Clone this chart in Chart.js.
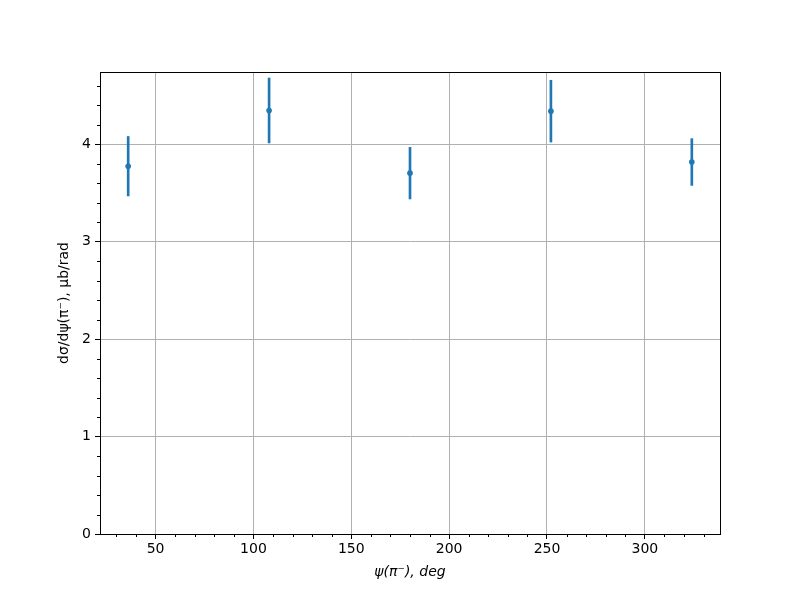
<!DOCTYPE html>
<html>
<head>
<meta charset="utf-8">
<script src="https://cdn.jsdelivr.net/npm/chart.js@4/dist/chart.umd.min.js"></script>
<style>
  html, body { margin: 0; padding: 0; background: #fff; }
  #c { display: block; }
</style>
</head>
<body>
<canvas id="c" width="800" height="600"></canvas>
<script>
// ── data ──
const psiDeg  = [36, 108, 180, 252, 324];
const dSigma  = [3.775, 4.347, 3.704, 4.340, 3.818];
const dSigErr = [0.305, 0.333, 0.265, 0.317, 0.240];

const xTicks = [50, 100, 150, 200, 250, 300];
const yTicks = [0, 1, 2, 3, 4];
const xMinor = [30, 40, 60, 70, 80, 90, 110, 120, 130, 140, 160, 170, 180, 190,
                210, 220, 230, 240, 260, 270, 280, 290, 310, 320, 330];
const yMinor = [0.2, 0.4, 0.6, 0.8, 1.2, 1.4, 1.6, 1.8, 2.2, 2.4, 2.6, 2.8,
                3.2, 3.4, 3.6, 3.8, 4.2, 4.4, 4.6];

const BLUE = '#1f77b4';
const FONT = { family: 'DejaVu Sans', size: 14 };

// frame + minor ticks, matplotlib style
const axesFrame = {
  id: 'axesFrame',
  afterDraw(chart) {
    const { ctx, chartArea: a, scales: { x, y } } = chart;
    ctx.save();
    ctx.strokeStyle = '#000';
    ctx.lineWidth = 1;
    ctx.beginPath();
    xMinor.forEach(v => {
      const px = Math.round(x.getPixelForValue(v)) + 0.5;
      ctx.moveTo(px, a.bottom); ctx.lineTo(px, a.bottom + 3);
    });
    yMinor.forEach(v => {
      const py = Math.round(y.getPixelForValue(v)) + 0.5;
      ctx.moveTo(a.left, py); ctx.lineTo(a.left - 3, py);
    });
    ctx.stroke();
    ctx.strokeRect(Math.round(a.left) + 0.5, Math.round(a.top) + 0.5,
                   Math.round(a.right - a.left), Math.round(a.bottom - a.top));
    ctx.restore();
  }
};

new Chart(document.getElementById('c'), {
  type: 'scatter',
  data: {
    datasets: [
      {
        type: 'scatter',
        data: psiDeg.map((v, i) => ({ x: v, y: dSigma[i] })),
        backgroundColor: BLUE,
        borderColor: BLUE,
        pointRadius: 2.8,
        pointHoverRadius: 2.8,
        borderWidth: 0,
        order: 1
      },
      {
        type: 'bar',
        data: psiDeg.map((v, i) => ({ x: v, y: [dSigma[i] - dSigErr[i], dSigma[i] + dSigErr[i]] })),
        backgroundColor: BLUE,
        borderWidth: 0,
        barThickness: 2,
        grouped: false,
        order: 2
      }
    ]
  },
  options: {
    responsive: false,
    animation: false,
    devicePixelRatio: 1,
    layout: { padding: { top: 72, right: 80, left: 0, bottom: 0 } },
    plugins: { legend: { display: false }, tooltip: { enabled: false } },
    scales: {
      x: {
        type: 'linear',
        min: 21.6,
        max: 338.4,
        offset: false,
        afterBuildTicks: s => { s.ticks = xTicks.map(v => ({ value: v })); },
        afterFit: s => { s.height = 66; },
        grid: { color: '#b0b0b0', lineWidth: 1, tickColor: '#000', tickLength: 5, offset: false },
        border: { color: '#000', width: 1 },
        ticks: { color: '#000', font: FONT, padding: 2, maxRotation: 0 },
        title: {
          display: true,
          text: 'ψ(π⁻), deg',
          color: '#000',
          font: { family: 'DejaVu Sans', size: 14, style: 'italic' },
          padding: { top: 0, bottom: 19 }
        }
      },
      y: {
        type: 'linear',
        min: 0,
        max: 4.742,
        afterBuildTicks: s => { s.ticks = yTicks.map(v => ({ value: v })); },
        afterFit: s => { s.width = 100; },
        grid: { color: '#b0b0b0', lineWidth: 1, tickColor: '#000', tickLength: 5 },
        border: { color: '#000', width: 1 },
        ticks: { color: '#000', font: FONT, padding: 4 },
        title: {
          display: true,
          text: 'dσ/dψ(π⁻), μb/rad',
          color: '#000',
          font: FONT,
          padding: { top: 56, bottom: 0 }
        }
      }
    }
  },
  plugins: [axesFrame]
});
</script>
</body>
</html>
